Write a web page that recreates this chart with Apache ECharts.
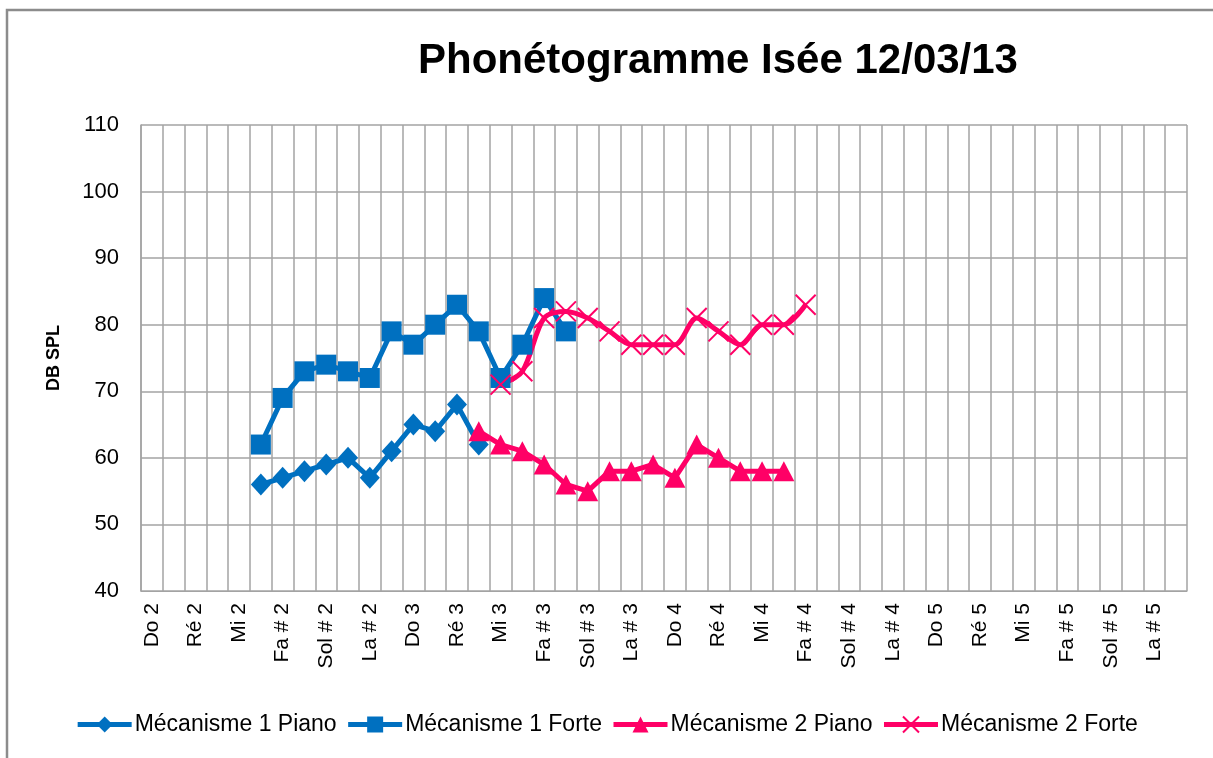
<!DOCTYPE html>
<html>
<head>
<meta charset="utf-8">
<title>Phonétogramme Isée 12/03/13</title>
<script src="https://cdn.jsdelivr.net/npm/echarts@6/dist/echarts.min.js"></script>
<style>
  html, body { margin: 0; padding: 0; background: #fff; }
  #chart { width: 1213px; height: 758px; }
</style>
</head>
<body>
<div id="chart"></div>
<script>
// Chromatic scale, octaves 2 to 5
const notes = [
  'Do 2', 'Do # 2', 'Ré 2', 'Ré # 2', 'Mi 2', 'Fa 2', 'Fa # 2', 'Sol 2', 'Sol # 2', 'La 2', 'La # 2', 'Si 2',
  'Do 3', 'Do # 3', 'Ré 3', 'Ré # 3', 'Mi 3', 'Fa 3', 'Fa # 3', 'Sol 3', 'Sol # 3', 'La 3', 'La # 3', 'Si 3',
  'Do 4', 'Do # 4', 'Ré 4', 'Ré # 4', 'Mi 4', 'Fa 4', 'Fa # 4', 'Sol 4', 'Sol # 4', 'La 4', 'La # 4', 'Si 4',
  'Do 5', 'Do # 5', 'Ré 5', 'Ré # 5', 'Mi 5', 'Fa 5', 'Fa # 5', 'Sol 5', 'Sol # 5', 'La 5', 'La # 5', 'Si 5'
];

// dB SPL per note (null = not measured)
const _ = null;
const meca1Piano = [
  _, _, _, _, _, 56, 57, 58, 59, 60, 57, 61,
  65, 64, 68, 62, _, _, _, _, _, _, _, _,
  _, _, _, _, _, _, _, _, _, _, _, _,
  _, _, _, _, _, _, _, _, _, _, _, _
];
const meca1Forte = [
  _, _, _, _, _, 62, 69, 73, 74, 73, 72, 79,
  77, 80, 83, 79, 72, 77, 84, 79, _, _, _, _,
  _, _, _, _, _, _, _, _, _, _, _, _,
  _, _, _, _, _, _, _, _, _, _, _, _
];
const meca2Piano = [
  _, _, _, _, _, _, _, _, _, _, _, _,
  _, _, _, 64, 62, 61, 59, 56, 55, 58, 58, 59,
  57, 62, 60, 58, 58, 58, _, _, _, _, _, _,
  _, _, _, _, _, _, _, _, _, _, _, _
];
const meca2Forte = [
  _, _, _, _, _, _, _, _, _, _, _, _,
  _, _, _, _, 71, 73, 81, 82, 81, 79, 77, 77,
  77, 81, 79, 77, 80, 80, 83, _, _, _, _, _,
  _, _, _, _, _, _, _, _, _, _, _, _
];

const yTicks = { min: 40, max: 110, step: 10 };

const BLUE = '#0070C0';
const PINK = '#FF0066';
const GRID = '#a3a3a3';
const FONT = "'Liberation Sans', Arial, sans-serif";

const chart = echarts.init(document.getElementById('chart'), null, { renderer: 'canvas' });

function lineSeries(name, data, color, symbol, size, extra) {
  return Object.assign({
    name: name,
    type: 'line',
    data: data,
    connectNulls: false,
    showAllSymbol: true,
    symbol: symbol,
    symbolSize: size,
    lineStyle: { color: color, width: 5 },
    itemStyle: { color: color },
    emphasis: { disabled: true },
    animation: false
  }, extra || {});
}

chart.setOption({
  backgroundColor: '#fff',
  textStyle: { fontFamily: FONT },
  graphic: [{
    type: 'rect',
    shape: { x: 7, y: 10, width: 1400, height: 900 },
    style: { fill: 'none', stroke: '#8c8c8c', lineWidth: 2.5 },
    silent: true,
    z: -1
  }],
  title: {
    text: 'Phonétogramme Isée 12/03/13',
    left: 713,
    top: 35,
    textAlign: 'center',
    textStyle: { fontFamily: FONT, fontSize: 42, fontWeight: 'bold', color: '#000' }
  },
  grid: { left: 141, right: 26, top: 125, bottom: 167, containLabel: false },
  legend: {
    bottom: 17,
    left: 'center',
    itemWidth: 54,
    itemHeight: 20,
    itemGap: 9,
    lineStyle: { width: 5 },
    textStyle: { fontFamily: FONT, fontSize: 23, color: '#000', padding: [0, 0, 0, -2] },
    data: ['Mécanisme 1 Piano', 'Mécanisme 1 Forte', 'Mécanisme 2 Piano', 'Mécanisme 2 Forte']
  },
  xAxis: {
    type: 'category',
    data: notes,
    boundaryGap: true,
    axisLine: { lineStyle: { color: GRID, width: 1 } },
    axisTick: { show: false },
    axisLabel: {
      interval: 1,
      rotate: 90,
      margin: 12,
      color: '#000',
      fontFamily: FONT,
      fontSize: 21
    },
    splitLine: { show: true, interval: 0, lineStyle: { color: GRID, width: 1.5 } }
  },
  yAxis: {
    type: 'value',
    name: 'DB SPL',
    nameLocation: 'middle',
    nameGap: 78,
    nameTextStyle: { fontFamily: FONT, fontSize: 18, fontWeight: 'bold', color: '#000' },
    min: yTicks.min,
    max: yTicks.max,
    interval: yTicks.step,
    axisLine: { show: true, lineStyle: { color: GRID, width: 1.5 } },
    axisTick: { show: false },
    axisLabel: { color: '#000', fontFamily: FONT, fontSize: 22, margin: 22 },
    splitLine: { show: true, lineStyle: { color: GRID, width: 1.5 } }
  },
  series: [
    lineSeries('Mécanisme 1 Piano', meca1Piano, BLUE, 'diamond', [20, 22]),
    lineSeries('Mécanisme 1 Forte', meca1Forte, BLUE, 'rect', 20),
    lineSeries('Mécanisme 2 Piano', meca2Piano, PINK, 'triangle', [21, 20]),
    lineSeries('Mécanisme 2 Forte', meca2Forte, PINK, 'path://M0,0L10,10M10,0L0,10', 20, {
      smooth: 0.3,
      itemStyle: { color: PINK, borderColor: PINK, borderWidth: 2 }
    })
  ]
});
</script>
</body>
</html>
